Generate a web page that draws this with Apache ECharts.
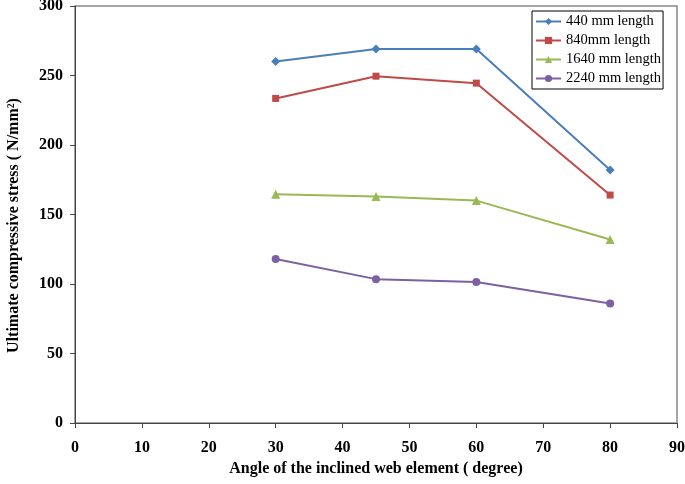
<!DOCTYPE html>
<html>
<head>
<meta charset="utf-8">
<script src="https://cdn.jsdelivr.net/npm/echarts@6/dist/echarts.min.js"></script>
<style>
  html, body { margin: 0; padding: 0; background: #fff; }
  #chart { width: 685px; height: 484px; }
</style>
</head>
<body>
<div id="chart"></div>
<script>
(function(){
    var angles = [30, 45, 60, 80];
    var len440 = [260, 269, 269, 182];
    var len840 = [233.5, 249.5, 244.5, 164];
    var len1640 = [164.5, 163, 160, 132];
    var len2240 = [118, 103.5, 101.5, 86];
    var seriesNames = ['440 mm length', '840mm length', '1640 mm length', '2240 mm length'];

    var myChart = echarts.init(document.getElementById('chart'));

    function pairs(vals) {
        return angles.map(function (a, i) { return [a, vals[i]]; });
    }

    var tickFont = { fontFamily: 'Liberation Serif', fontWeight: 'bold', fontSize: 16, color: '#000' };
    var titleFont = { fontFamily: 'Liberation Serif', fontWeight: 'bold', fontSize: 16, color: '#000' };

    function line(name, vals, color, symbol, size) {
        return {
            name: name,
            type: 'line',
            data: pairs(vals),
            symbol: symbol,
            symbolSize: size,
            lineStyle: { color: color, width: 2 },
            itemStyle: { color: color }
        };
    }

    var option = {
        animation: false,
        grid: {
            left: 75, right: 8, top: 6, bottom: 61,
            outerBoundsMode: 'none',
            containLabel: false,
            show: true, borderColor: '#888', borderWidth: 1.5
        },
        legend: {
            orient: 'vertical',
            left: 532, top: 11,
            itemWidth: 25, itemHeight: 9, itemGap: 4,
            padding: [3, 2, 3, 3],
            borderColor: '#000', borderWidth: 1,
            backgroundColor: '#fff',
            textStyle: { fontFamily: 'Liberation Serif', fontSize: 14.5, color: '#000' },
            data: seriesNames
        },
        xAxis: {
            type: 'value', min: 0, max: 90, interval: 10,
            name: 'Angle of the inclined web element ( degree)',
            nameLocation: 'middle', nameGap: 38,
            nameTextStyle: titleFont,
            axisLine: { lineStyle: { color: '#444', width: 1 } },
            axisTick: { lineStyle: { color: '#444' }, length: 5 },
            axisLabel: Object.assign({ margin: 17 }, tickFont),
            splitLine: { show: false }
        },
        yAxis: {
            type: 'value', min: 0, max: 300, interval: 50,
            name: 'Ultimate compressive stress ( N/mm²)',
            nameLocation: 'middle', nameGap: 53,
            nameTextStyle: Object.assign({ padding: [0, 22, 0, 0] }, titleFont),
            axisLine: { show: true, lineStyle: { color: '#444', width: 1 } },
            axisTick: { show: true, lineStyle: { color: '#444' }, length: 5 },
            axisLabel: Object.assign({ margin: 12 }, tickFont),
            splitLine: { show: false }
        },
        series: [
            line(seriesNames[0], len440, '#4a7ebb', 'diamond', 9),
            line(seriesNames[1], len840, '#be4b48', 'rect', 7),
            line(seriesNames[2], len1640, '#98b954', 'triangle', 9),
            line(seriesNames[3], len2240, '#7d60a0', 'circle', 8)
        ]
    };

    myChart.setOption(option);
})()
</script>
</body>
</html>
